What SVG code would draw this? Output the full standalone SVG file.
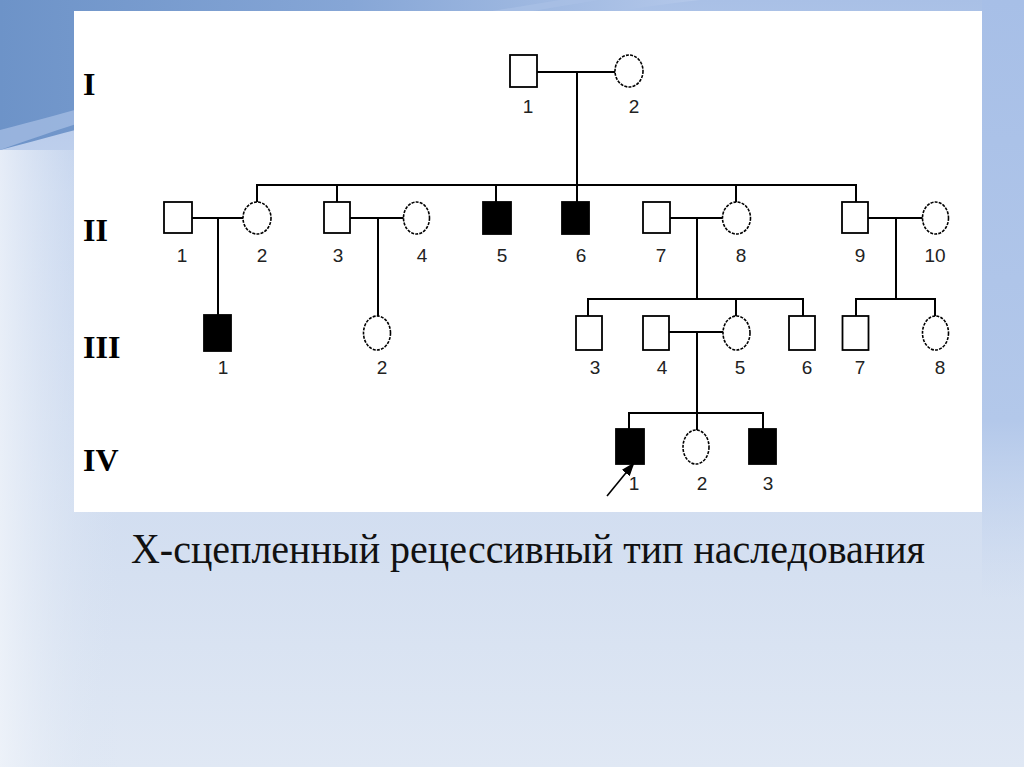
<svg xmlns="http://www.w3.org/2000/svg" width="1024" height="767" viewBox="0 0 1024 767">
<style>
.ln{stroke:#000;stroke-width:2;fill:none;stroke-linecap:square}
.sq{fill:#fff;stroke:#000;stroke-width:1.8}
.af{fill:#000;stroke:#000;stroke-width:1.8}
.ci{fill:#fff;stroke:#000;stroke-width:1.6;stroke-dasharray:3 1.2}
.lb{font-family:"Liberation Sans",Arial,sans-serif;font-size:19px;fill:#222;text-anchor:middle}
.gn{font-family:"Liberation Serif","Times New Roman",serif;font-size:32px;font-weight:bold;fill:#000}
</style>
<defs>
<linearGradient id="bg" x1="0" y1="0" x2="0" y2="1">
<stop offset="0" stop-color="#a9c0e6"/>
<stop offset="0.25" stop-color="#c3d3ee"/>
<stop offset="0.75" stop-color="#d5e0f1"/>
<stop offset="1" stop-color="#e0e8f4"/>
</linearGradient>
<linearGradient id="tl" x1="0" y1="0" x2="1" y2="0">
<stop offset="0" stop-color="#6d93c8"/>
<stop offset="0.5" stop-color="#86a6d6"/>
<stop offset="1" stop-color="#b4c8ea"/>
</linearGradient>
<linearGradient id="lf" x1="0" y1="0" x2="1" y2="0">
<stop offset="0" stop-color="#f0f4fa"/>
<stop offset="1" stop-color="#d8e3f2" stop-opacity="0"/>
</linearGradient>
<linearGradient id="rs" x1="0" y1="0" x2="0" y2="1">
<stop offset="0" stop-color="#a7bfe7"/>
<stop offset="0.7" stop-color="#b3c8ea"/>
<stop offset="1" stop-color="#c8d7ef" stop-opacity="0"/>
</linearGradient>
<marker id="ah" markerWidth="14" markerHeight="10" refX="13" refY="5" orient="auto" markerUnits="userSpaceOnUse">
<path d="M0,0 L14,5 L0,10 Z" fill="#000"/>
</marker>
</defs>
<g id="background">
<rect x="0" y="0" width="1024" height="767" fill="url(#bg)"/>
<rect x="0" y="150" width="120" height="617" fill="url(#lf)" opacity="0.8"/>
<path d="M0,0 H700 C520,20 260,80 0,150 Z" fill="url(#tl)"/>
<path d="M0,130 C120,100 300,40 560,0 L600,0 C340,40 140,100 0,150 Z" fill="#a9c1e6" opacity="0.7"/>
<rect x="982" y="0" width="42" height="600" fill="url(#rs)"/>
</g>
<rect id="panel" x="74" y="11" width="908" height="501" fill="#fff"/>
<g id="generation-labels">
<text class="gn" x="83" y="95">I</text>
<text class="gn" x="83" y="241">II</text>
<text class="gn" x="83" y="358">III</text>
<text class="gn" x="83" y="471">IV</text>
</g>
<g id="connectors">
<path class="ln" d="M537,72 H615 M577,72 V185 M257,185 H856 M257,185 V202 M337,185 V202 M496,185 V202 M577,185 V202 M736,185 V202 M856,185 V202"/>
<path class="ln" d="M192,218 H243 M218,218 V315"/>
<path class="ln" d="M350,218 H403 M378,218 V317"/>
<path class="ln" d="M670,218 H723 M697,218 V299 M588,299 H803 M588,299 V316 M736,299 V317 M803,299 V316"/>
<path class="ln" d="M868,218 H922 M896,218 V299 M856,299 H935 M856,299 V316 M935,299 V317"/>
<path class="ln" d="M669,332 H723 M697,332 V413 M629,413 H763 M629,413 V429 M697,413 V431 M763,413 V429"/>
<line x1="607" y1="496" x2="634" y2="463" stroke="#000" stroke-width="1.6" marker-end="url(#ah)"/>
</g>
<g id="I-1"><rect class="sq" x="510" y="55" width="27" height="32"/><text class="lb" x="528" y="113">1</text></g>
<g id="I-2"><ellipse class="ci" cx="629" cy="71" rx="14" ry="16"/><text class="lb" x="634" y="113">2</text></g>
<g id="II-1"><rect class="sq" x="164" y="202" width="28" height="31"/><text class="lb" x="182" y="262">1</text></g>
<g id="II-2"><ellipse class="ci" cx="257" cy="218" rx="14" ry="16"/><text class="lb" x="262" y="262">2</text></g>
<g id="II-3"><rect class="sq" x="324" y="202" width="26" height="31"/><text class="lb" x="338" y="262">3</text></g>
<g id="II-4"><ellipse class="ci" cx="416.5" cy="218" rx="13" ry="16"/><text class="lb" x="422" y="262">4</text></g>
<g id="II-5"><rect class="af" x="483" y="202" width="28" height="32"/><text class="lb" x="502" y="262">5</text></g>
<g id="II-6"><rect class="af" x="562" y="202" width="27" height="32"/><text class="lb" x="581" y="262">6</text></g>
<g id="II-7"><rect class="sq" x="643" y="202" width="27" height="31"/><text class="lb" x="661" y="262">7</text></g>
<g id="II-8"><ellipse class="ci" cx="736.5" cy="218" rx="14" ry="16"/><text class="lb" x="741" y="262">8</text></g>
<g id="II-9"><rect class="sq" x="842" y="202" width="26" height="31"/><text class="lb" x="860" y="262">9</text></g>
<g id="II-10"><ellipse class="ci" cx="935.5" cy="218" rx="13" ry="16"/><text class="lb" x="935" y="262">10</text></g>
<g id="III-1"><rect class="af" x="204" y="315" width="27" height="36"/><text class="lb" x="223" y="374">1</text></g>
<g id="III-2"><ellipse class="ci" cx="377" cy="333" rx="13.5" ry="17"/><text class="lb" x="382" y="374">2</text></g>
<g id="III-3"><rect class="sq" x="576" y="316" width="26" height="34"/><text class="lb" x="595" y="374">3</text></g>
<g id="III-4"><rect class="sq" x="643" y="316" width="26" height="34"/><text class="lb" x="662" y="374">4</text></g>
<g id="III-5"><ellipse class="ci" cx="736.5" cy="333" rx="13.5" ry="17"/><text class="lb" x="740" y="374">5</text></g>
<g id="III-6"><rect class="sq" x="789" y="316" width="26" height="34"/><text class="lb" x="807" y="374">6</text></g>
<g id="III-7"><rect class="sq" x="842.5" y="316" width="26" height="34"/><text class="lb" x="860" y="374">7</text></g>
<g id="III-8"><ellipse class="ci" cx="935.5" cy="333" rx="13" ry="17"/><text class="lb" x="940" y="374">8</text></g>
<g id="IV-1"><rect class="af" x="616" y="429" width="28" height="35"/><text class="lb" x="634" y="490">1</text></g>
<g id="IV-2"><ellipse class="ci" cx="696" cy="447" rx="13" ry="17"/><text class="lb" x="702" y="490">2</text></g>
<g id="IV-3"><rect class="af" x="749" y="429" width="27" height="35"/><text class="lb" x="768" y="490">3</text></g>
<text id="caption" x="131" y="563" font-family="'Liberation Serif','Times New Roman',serif" font-size="43" fill="#111" textLength="794" lengthAdjust="spacingAndGlyphs">X-сцепленный рецессивный тип наследования</text>
</svg>
